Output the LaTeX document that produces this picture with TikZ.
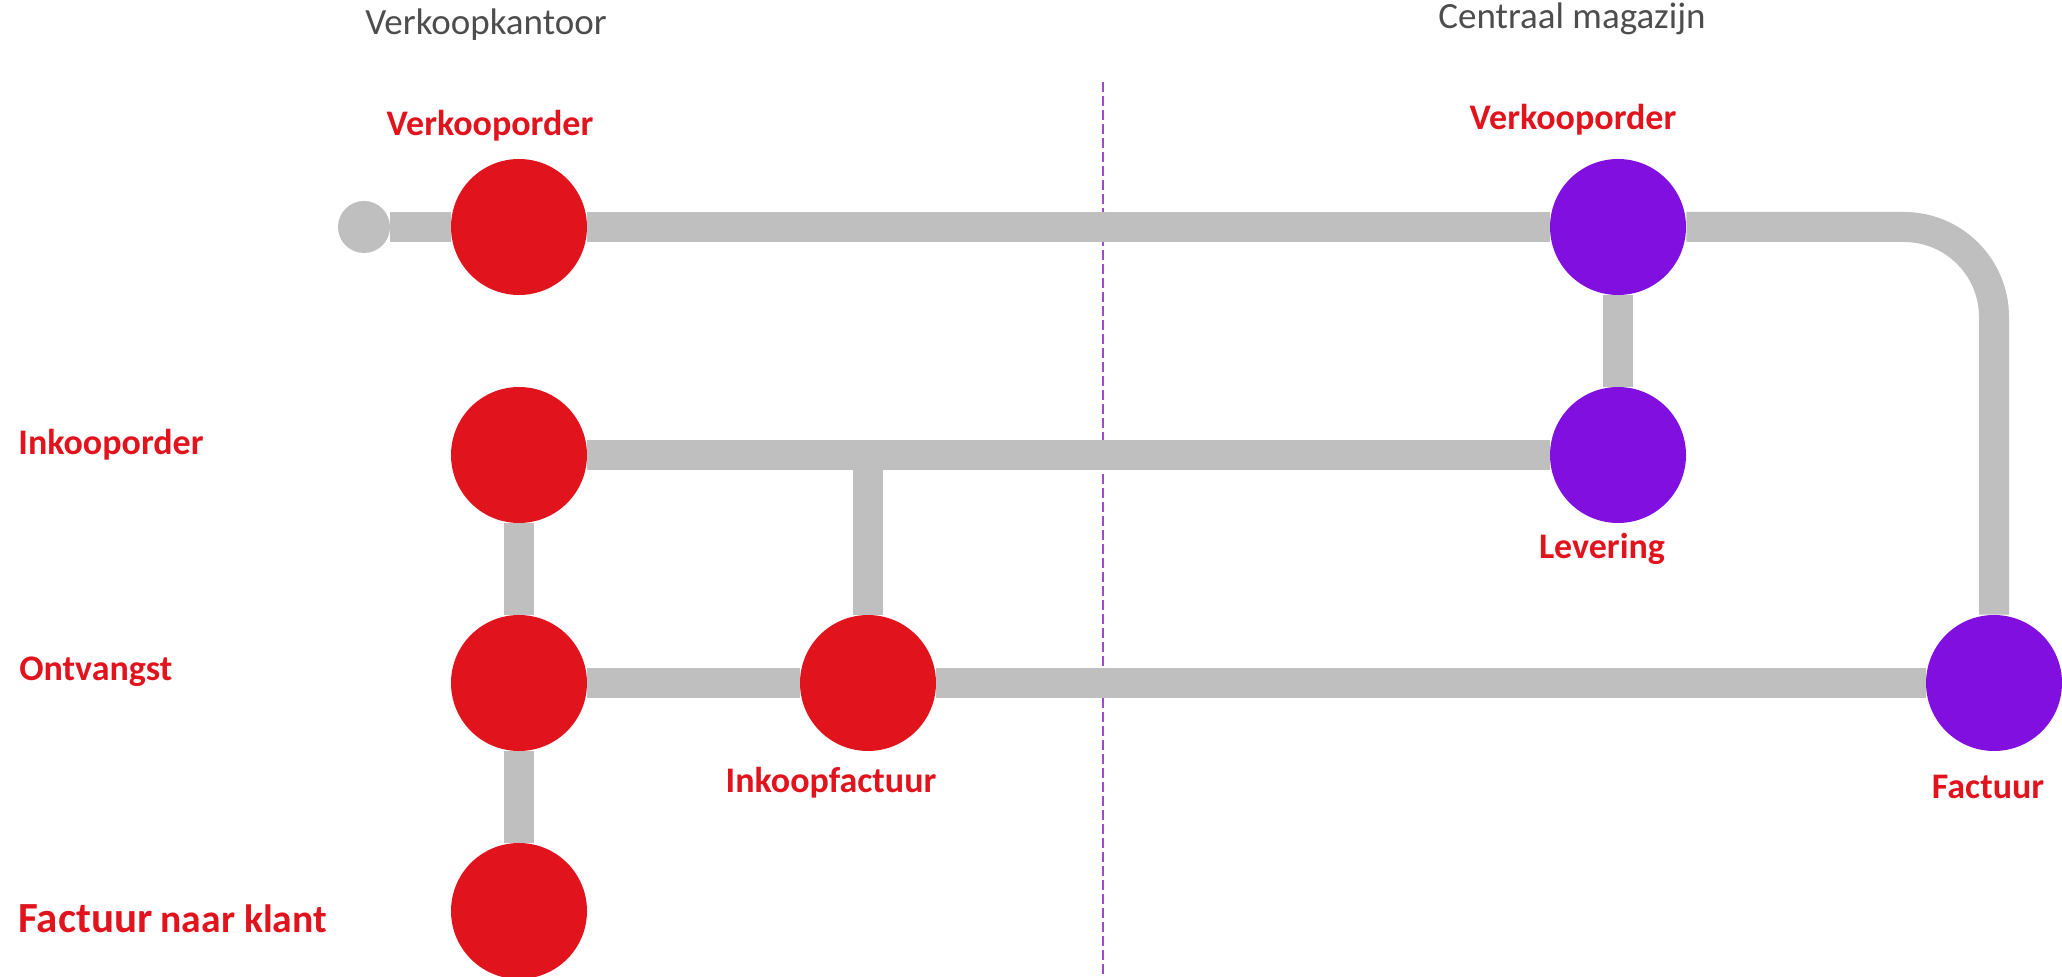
\documentclass[tikz,border=0pt]{standalone}
\usepackage{fontspec}
\setmainfont{Carlito}
\definecolor{stopred}{HTML}{E1141E}
\definecolor{stoppurple}{HTML}{800FE0}
\definecolor{railgray}{HTML}{BFBFBF}
\definecolor{headgray}{HTML}{4D4D4D}
\definecolor{divpurple}{HTML}{9B4DCA}
\begin{document}
\begin{tikzpicture}[x=0.5pt, y=-0.5pt,
    rail/.style={draw=railgray, line width=15pt},
    station/.style={circle, fill=#1, minimum size=68pt, inner sep=0pt},
    stationlabel/.style={text=stopred, inner sep=0pt, font=\bfseries\fontsize{18}{20}\selectfont},
    heading/.style={text=headgray, inner sep=0pt, font=\fontsize{18.5}{20}\selectfont},
    divider/.style={draw=divpurple, line width=1pt, dash pattern=on 5pt off 2pt}]
    \useasboundingbox (0,0) rectangle (2062,977);
    % afdelingen
    \node[heading, anchor=base] (kantoor) at (486,35) {Verkoopkantoor};
    \node[heading, anchor=base] (magazijn) at (1572,29) {Centraal magazijn};
    \coordinate (divtop) at (1103,82);
    \coordinate (divbot) at (1103,977);
    \draw[divider] (divtop) -- (divbot);
    % stations
    \node[circle, fill=railgray, minimum size=26pt, inner sep=0pt] (start) at (364,227) {};
    \node[station=stopred] (vo1) at (519,227) {};
    \node[station=stopred] (io) at (519,455) {};
    \node[station=stopred] (ont) at (519,683) {};
    \node[station=stopred] (fnk) at (519,911) {};
    \node[station=stopred] (ikf) at (868,683) {};
    \node[station=stoppurple] (vo2) at (1618,227) {};
    \node[station=stoppurple] (lev) at (1618,455) {};
    \node[station=stoppurple] (fac) at (1994,683) {};
    % lijnen
    \draw[rail] (start) -- (vo1);
    \draw[rail] (vo1) -- (vo2);
    \draw[rail, rounded corners=45pt] (vo2) -| (fac);
    \draw[rail] (vo2) -- (lev);
    \draw[rail] (io) -- (lev);
    \draw[rail] (ikf) -- (ikf |- io);
    \draw[rail] (io) -- (ont);
    \draw[rail] (ont) -- (fnk);
    \draw[rail] (ont) -- (ikf);
    \draw[rail] (ikf) -- (fac);
    % labels
    \node[stationlabel, anchor=base] (vo1l) at (490,136) {Verkooporder};
    \node[stationlabel, anchor=base] (vo2l) at (1573,130) {Verkooporder};
    \node[stationlabel, anchor=base west] (iol) at (18,455) {Inkooporder};
    \node[stationlabel, anchor=base west] (ontl) at (19,681) {Ontvangst};
    \node[stationlabel, anchor=base west] (fnkl) at (18,932) {{\fontsize{21.5}{24}\selectfont Factuur} {\fontsize{19.8}{22}\selectfont naar klant}};
    \node[stationlabel, anchor=base] (ikfl) at (831,793) {Inkoopfactuur};
    \node[stationlabel, anchor=base] (levl) at (1602,559) {Levering};
    \node[stationlabel, anchor=base] (facl) at (1988,799) {Factuur};
\end{tikzpicture}
\end{document}
